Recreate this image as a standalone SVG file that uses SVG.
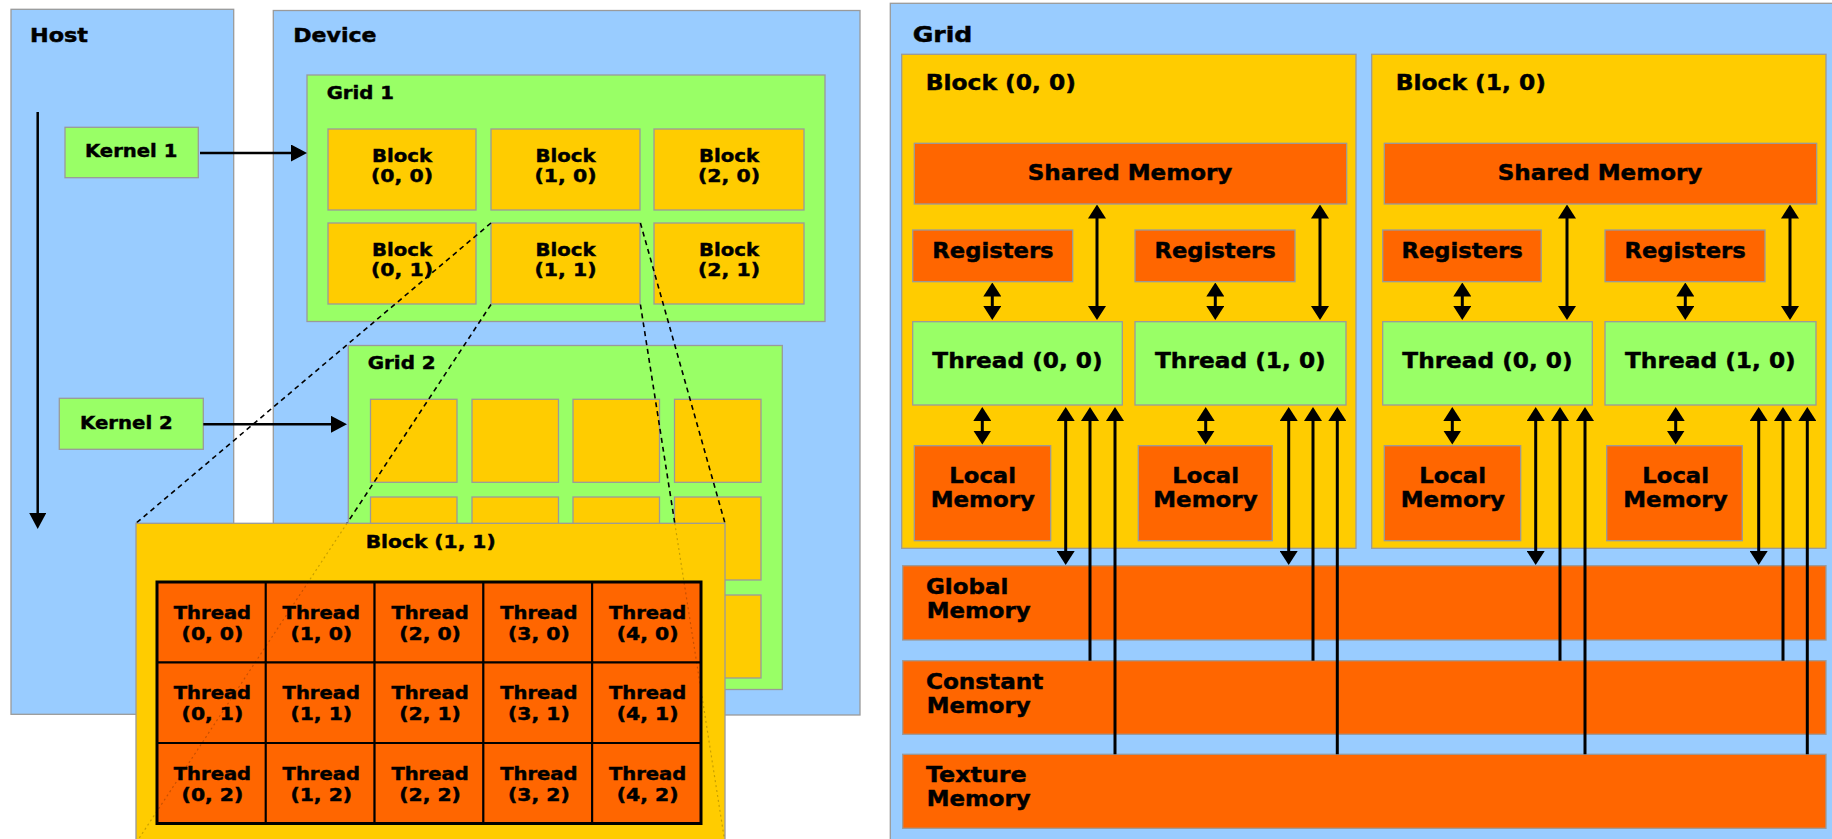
<svg xmlns="http://www.w3.org/2000/svg" width="1832" height="839" viewBox="0 0 1832 839">
<style>
.panel{fill:#99CCFF;stroke:#9a9a9a;stroke-width:1.3}
.grn{fill:#99FF66;stroke:#9a9a9a;stroke-width:1.3}
.blk{fill:#FFCC00;stroke:#9a9a9a;stroke-width:1.3}
.mem{fill:#FF6600;stroke:#9a9a9a;stroke-width:1.3}
.cell{fill:#FF6600;stroke:#000;stroke-width:2}
.outer{fill:none;stroke:#000;stroke-width:3}
text{font-family:"DejaVu Sans",Verdana,sans-serif;font-weight:bold;fill:#000;stroke:#000;stroke-width:0.45}
.lh{font-size:19.5px}
.l{font-size:18px}
.lt{font-size:17px}
.r{font-size:21.5px}
.rh{font-size:22px}
.arr{stroke:#000;stroke-width:3;fill:none}
.arl{stroke:#000;stroke-width:2.5;fill:none}
.dash{stroke:#000;stroke-width:1.6;stroke-dasharray:5 4;fill:none}
.faint{stroke:#000;stroke-opacity:0.22;stroke-width:1.2;stroke-dasharray:2 3;fill:none}
</style>
<defs>
<marker id="h" viewBox="0 0 14 18" markerWidth="14" markerHeight="18" refX="6" refY="9" orient="auto-start-reverse" markerUnits="userSpaceOnUse"><path d="M0,0 L14,9 L0,18 z" fill="#000"/></marker>
<marker id="hl" viewBox="0 0 16 17" markerWidth="16" markerHeight="17" refX="7" refY="8.5" orient="auto-start-reverse" markerUnits="userSpaceOnUse"><path d="M0,0 L16,8.5 L0,17 z" fill="#000"/></marker>
</defs>
<rect width="1832" height="839" fill="#fff"/>

<!-- LEFT DIAGRAM -->
<g id="host">
<rect class="panel" x="11" y="9.3" width="222.7" height="705"/>
<text class="lh" x="30" y="41.5" textLength="58" lengthAdjust="spacingAndGlyphs">Host</text>
</g>
<g id="device">
<rect class="panel" x="273.3" y="10.5" width="586.7" height="704.5"/>
<text class="lh" x="293.3" y="42" textLength="83.3" lengthAdjust="spacingAndGlyphs">Device</text>
</g>
<g id="grid1">
<rect class="grn" x="307" y="75" width="518" height="246.5"/>
<text class="l" x="326.7" y="99" textLength="67.3" lengthAdjust="spacingAndGlyphs">Grid 1</text>
</g>
<g id="g1-block-0-0"><rect class="blk" x="328" y="129" width="148" height="81"/>
<text class="l" x="372" y="161.5" textLength="60" lengthAdjust="spacingAndGlyphs">Block</text>
<text class="l" x="371" y="181.5" textLength="62" lengthAdjust="spacingAndGlyphs">(0, 0)</text></g>
<g id="g1-block-1-0"><rect class="blk" x="491" y="129" width="149" height="81"/>
<text class="l" x="535.5" y="161.5" textLength="60" lengthAdjust="spacingAndGlyphs">Block</text>
<text class="l" x="534.5" y="181.5" textLength="62" lengthAdjust="spacingAndGlyphs">(1, 0)</text></g>
<g id="g1-block-2-0"><rect class="blk" x="654" y="129" width="150" height="81"/>
<text class="l" x="699" y="161.5" textLength="60" lengthAdjust="spacingAndGlyphs">Block</text>
<text class="l" x="698" y="181.5" textLength="62" lengthAdjust="spacingAndGlyphs">(2, 0)</text></g>
<g id="g1-block-0-1"><rect class="blk" x="328" y="223" width="148" height="81"/>
<text class="l" x="372" y="255.5" textLength="60" lengthAdjust="spacingAndGlyphs">Block</text>
<text class="l" x="371" y="275.5" textLength="62" lengthAdjust="spacingAndGlyphs">(0, 1)</text></g>
<g id="g1-block-1-1"><rect class="blk" x="491" y="223" width="149" height="81"/>
<text class="l" x="535.5" y="255.5" textLength="60" lengthAdjust="spacingAndGlyphs">Block</text>
<text class="l" x="534.5" y="275.5" textLength="62" lengthAdjust="spacingAndGlyphs">(1, 1)</text></g>
<g id="g1-block-2-1"><rect class="blk" x="654" y="223" width="150" height="81"/>
<text class="l" x="699" y="255.5" textLength="60" lengthAdjust="spacingAndGlyphs">Block</text>
<text class="l" x="698" y="275.5" textLength="62" lengthAdjust="spacingAndGlyphs">(2, 1)</text></g>

<g id="grid2">
<rect class="grn" x="348.3" y="345.5" width="434" height="344"/>
<text class="l" x="367.7" y="369.3" textLength="68" lengthAdjust="spacingAndGlyphs">Grid 2</text>
<rect class="blk" x="370.5" y="399.3" width="86.5" height="83"/>
<rect class="blk" x="472" y="399.3" width="86.5" height="83"/>
<rect class="blk" x="573" y="399.3" width="86.5" height="83"/>
<rect class="blk" x="674.5" y="399.3" width="86.5" height="83"/>
<rect class="blk" x="370.5" y="497" width="86.5" height="83"/>
<rect class="blk" x="472" y="497" width="86.5" height="83"/>
<rect class="blk" x="573" y="497" width="86.5" height="83"/>
<rect class="blk" x="674.5" y="497" width="86.5" height="83"/>
<rect class="blk" x="370.5" y="595" width="86.5" height="83"/>
<rect class="blk" x="472" y="595" width="86.5" height="83"/>
<rect class="blk" x="573" y="595" width="86.5" height="83"/>
<rect class="blk" x="674.5" y="595" width="86.5" height="83"/>
</g>

<g id="kernel1">
<rect class="grn" x="65" y="127.3" width="133.3" height="50.4"/>
<text class="l" x="85" y="157.3" textLength="92.3" lengthAdjust="spacingAndGlyphs">Kernel 1</text>
</g>
<g id="kernel2">
<rect class="grn" x="59.3" y="398.3" width="144" height="51"/>
<text class="l" x="80" y="429.3" textLength="92.7" lengthAdjust="spacingAndGlyphs">Kernel 2</text>
</g>

<g id="connectors-left">
<line class="arl" x1="37.7" y1="112" x2="37.7" y2="520" marker-end="url(#hl)"/>
<line class="arl" x1="200" y1="153" x2="298" y2="153" marker-end="url(#hl)"/>
<line class="arl" x1="203.3" y1="424.3" x2="338" y2="424.3" marker-end="url(#hl)"/>
<line class="dash" x1="491" y1="223" x2="136" y2="523.3"/>
<line class="dash" x1="491" y1="304.5" x2="347" y2="523.3"/>
<line class="dash" x1="640.4" y1="223" x2="725" y2="523.3"/>
<line class="dash" x1="640.4" y1="304.5" x2="674.8" y2="523.3"/>
</g>

<g id="block-1-1-detail">
<rect class="blk" x="136" y="523.3" width="589" height="330"/>
<text class="l" x="365.7" y="548" textLength="130" lengthAdjust="spacingAndGlyphs">Block (1, 1)</text>
</g>
<g id="threads">
<rect class="cell" x="157" y="582" width="108.8" height="80.5"/>
<rect class="cell" x="265.8" y="582" width="108.8" height="80.5"/>
<rect class="cell" x="374.6" y="582" width="108.8" height="80.5"/>
<rect class="cell" x="483.4" y="582" width="108.8" height="80.5"/>
<rect class="cell" x="592.2" y="582" width="108.8" height="80.5"/>
<rect class="cell" x="157" y="662.5" width="108.8" height="80.5"/>
<rect class="cell" x="265.8" y="662.5" width="108.8" height="80.5"/>
<rect class="cell" x="374.6" y="662.5" width="108.8" height="80.5"/>
<rect class="cell" x="483.4" y="662.5" width="108.8" height="80.5"/>
<rect class="cell" x="592.2" y="662.5" width="108.8" height="80.5"/>
<rect class="cell" x="157" y="743" width="108.8" height="80.5"/>
<rect class="cell" x="265.8" y="743" width="108.8" height="80.5"/>
<rect class="cell" x="374.6" y="743" width="108.8" height="80.5"/>
<rect class="cell" x="483.4" y="743" width="108.8" height="80.5"/>
<rect class="cell" x="592.2" y="743" width="108.8" height="80.5"/>
<rect class="outer" x="157" y="582" width="544" height="241.5"/>
<g class="lt">
<text x="173.8" y="618.5" textLength="77.3" lengthAdjust="spacingAndGlyphs">Thread</text>
<text x="181.6" y="639.5" textLength="61.7" lengthAdjust="spacingAndGlyphs">(0, 0)</text>
<text x="282.6" y="618.5" textLength="77.3" lengthAdjust="spacingAndGlyphs">Thread</text>
<text x="290.4" y="639.5" textLength="61.7" lengthAdjust="spacingAndGlyphs">(1, 0)</text>
<text x="391.4" y="618.5" textLength="77.3" lengthAdjust="spacingAndGlyphs">Thread</text>
<text x="399.2" y="639.5" textLength="61.7" lengthAdjust="spacingAndGlyphs">(2, 0)</text>
<text x="500.2" y="618.5" textLength="77.3" lengthAdjust="spacingAndGlyphs">Thread</text>
<text x="508" y="639.5" textLength="61.7" lengthAdjust="spacingAndGlyphs">(3, 0)</text>
<text x="609" y="618.5" textLength="77.3" lengthAdjust="spacingAndGlyphs">Thread</text>
<text x="616.8" y="639.5" textLength="61.7" lengthAdjust="spacingAndGlyphs">(4, 0)</text>
<text x="173.8" y="699" textLength="77.3" lengthAdjust="spacingAndGlyphs">Thread</text>
<text x="181.6" y="720" textLength="61.7" lengthAdjust="spacingAndGlyphs">(0, 1)</text>
<text x="282.6" y="699" textLength="77.3" lengthAdjust="spacingAndGlyphs">Thread</text>
<text x="290.4" y="720" textLength="61.7" lengthAdjust="spacingAndGlyphs">(1, 1)</text>
<text x="391.4" y="699" textLength="77.3" lengthAdjust="spacingAndGlyphs">Thread</text>
<text x="399.2" y="720" textLength="61.7" lengthAdjust="spacingAndGlyphs">(2, 1)</text>
<text x="500.2" y="699" textLength="77.3" lengthAdjust="spacingAndGlyphs">Thread</text>
<text x="508" y="720" textLength="61.7" lengthAdjust="spacingAndGlyphs">(3, 1)</text>
<text x="609" y="699" textLength="77.3" lengthAdjust="spacingAndGlyphs">Thread</text>
<text x="616.8" y="720" textLength="61.7" lengthAdjust="spacingAndGlyphs">(4, 1)</text>
<text x="173.8" y="779.5" textLength="77.3" lengthAdjust="spacingAndGlyphs">Thread</text>
<text x="181.6" y="800.5" textLength="61.7" lengthAdjust="spacingAndGlyphs">(0, 2)</text>
<text x="282.6" y="779.5" textLength="77.3" lengthAdjust="spacingAndGlyphs">Thread</text>
<text x="290.4" y="800.5" textLength="61.7" lengthAdjust="spacingAndGlyphs">(1, 2)</text>
<text x="391.4" y="779.5" textLength="77.3" lengthAdjust="spacingAndGlyphs">Thread</text>
<text x="399.2" y="800.5" textLength="61.7" lengthAdjust="spacingAndGlyphs">(2, 2)</text>
<text x="500.2" y="779.5" textLength="77.3" lengthAdjust="spacingAndGlyphs">Thread</text>
<text x="508" y="800.5" textLength="61.7" lengthAdjust="spacingAndGlyphs">(3, 2)</text>
<text x="609" y="779.5" textLength="77.3" lengthAdjust="spacingAndGlyphs">Thread</text>
<text x="616.8" y="800.5" textLength="61.7" lengthAdjust="spacingAndGlyphs">(4, 2)</text>
</g>
</g>
<g id="connectors-faint">
<line class="faint" x1="347" y1="523.3" x2="136" y2="843"/>
<line class="faint" x1="674.8" y1="523.3" x2="725" y2="843"/>
</g>

<!-- RIGHT DIAGRAM -->
<g id="grid">
<rect class="panel" x="890.3" y="3.3" width="960" height="850"/>
<text class="rh" x="912.7" y="41.7" textLength="59.7" lengthAdjust="spacingAndGlyphs">Grid</text>
</g>

<g id="rblock-0-0">
<rect class="blk" x="901.7" y="54.3" width="454.3" height="494"/>
<text class="r" x="925.7" y="90" textLength="150.3" lengthAdjust="spacingAndGlyphs">Block (0, 0)</text>
<g id="b0-shared"><rect class="mem" x="914.3" y="143.3" width="432.4" height="60.7"/>
<text class="r" x="1027.7" y="179.5" textLength="204.7" lengthAdjust="spacingAndGlyphs">Shared Memory</text></g>
<g id="b0-reg0"><rect class="mem" x="912.7" y="230" width="160" height="51.7"/>
<text class="r" x="932.3" y="258" textLength="121.3" lengthAdjust="spacingAndGlyphs">Registers</text></g>
<g id="b0-reg1"><rect class="mem" x="1135" y="230" width="160" height="51.7"/>
<text class="r" x="1154.5" y="258" textLength="121.3" lengthAdjust="spacingAndGlyphs">Registers</text></g>
<g id="b0-thread0"><rect class="grn" x="912.7" y="321.7" width="209.6" height="83.3"/>
<text class="r" x="932.3" y="367.7" textLength="170.3" lengthAdjust="spacingAndGlyphs">Thread (0, 0)</text></g>
<g id="b0-thread1"><rect class="grn" x="1135" y="321.7" width="211" height="83.3"/>
<text class="r" x="1155" y="367.7" textLength="170.7" lengthAdjust="spacingAndGlyphs">Thread (1, 0)</text></g>
<g id="b0-local0"><rect class="mem" x="914.3" y="445.7" width="136.4" height="95"/>
<text class="r" x="949.3" y="483" textLength="66.7" lengthAdjust="spacingAndGlyphs">Local</text>
<text class="r" x="930.7" y="507" textLength="104.3" lengthAdjust="spacingAndGlyphs">Memory</text></g>
<g id="b0-local1"><rect class="mem" x="1138.3" y="445.7" width="134" height="95"/>
<text class="r" x="1172.3" y="483" textLength="66.7" lengthAdjust="spacingAndGlyphs">Local</text>
<text class="r" x="1153.3" y="507" textLength="104.3" lengthAdjust="spacingAndGlyphs">Memory</text></g>
</g>

<g id="rblock-1-0">
<rect class="blk" x="1371.7" y="54.3" width="454.3" height="494"/>
<text class="r" x="1395.7" y="90" textLength="150.3" lengthAdjust="spacingAndGlyphs">Block (1, 0)</text>
<g id="b1-shared"><rect class="mem" x="1384.3" y="143.3" width="432.4" height="60.7"/>
<text class="r" x="1497.7" y="179.5" textLength="204.7" lengthAdjust="spacingAndGlyphs">Shared Memory</text></g>
<g id="b1-reg0"><rect class="mem" x="1382.7" y="230" width="158.5" height="51.7"/>
<text class="r" x="1401.5" y="258" textLength="121.3" lengthAdjust="spacingAndGlyphs">Registers</text></g>
<g id="b1-reg1"><rect class="mem" x="1605" y="230" width="160" height="51.7"/>
<text class="r" x="1624.5" y="258" textLength="121.3" lengthAdjust="spacingAndGlyphs">Registers</text></g>
<g id="b1-thread0"><rect class="grn" x="1382.7" y="321.7" width="209.6" height="83.3"/>
<text class="r" x="1402.3" y="367.7" textLength="170.3" lengthAdjust="spacingAndGlyphs">Thread (0, 0)</text></g>
<g id="b1-thread1"><rect class="grn" x="1605" y="321.7" width="211" height="83.3"/>
<text class="r" x="1625" y="367.7" textLength="170.7" lengthAdjust="spacingAndGlyphs">Thread (1, 0)</text></g>
<g id="b1-local0"><rect class="mem" x="1384.3" y="445.7" width="136.4" height="95"/>
<text class="r" x="1419.3" y="483" textLength="66.7" lengthAdjust="spacingAndGlyphs">Local</text>
<text class="r" x="1400.7" y="507" textLength="104.3" lengthAdjust="spacingAndGlyphs">Memory</text></g>
<g id="b1-local1"><rect class="mem" x="1606.7" y="445.7" width="135.6" height="95"/>
<text class="r" x="1642.3" y="483" textLength="66.7" lengthAdjust="spacingAndGlyphs">Local</text>
<text class="r" x="1623.3" y="507" textLength="104.3" lengthAdjust="spacingAndGlyphs">Memory</text></g>
</g>

<g id="global-memory"><rect class="mem" x="902.7" y="565.7" width="923.3" height="74.3"/>
<text class="r" x="926" y="594.3" textLength="82.3" lengthAdjust="spacingAndGlyphs">Global</text>
<text class="r" x="926.7" y="618.3" textLength="104" lengthAdjust="spacingAndGlyphs">Memory</text></g>
<g id="constant-memory"><rect class="mem" x="902.7" y="660.7" width="923.3" height="73.6"/>
<text class="r" x="926" y="689.3" textLength="117.3" lengthAdjust="spacingAndGlyphs">Constant</text>
<text class="r" x="926.7" y="713.3" textLength="104" lengthAdjust="spacingAndGlyphs">Memory</text></g>
<g id="texture-memory"><rect class="mem" x="902.7" y="754.3" width="923.3" height="74"/>
<text class="r" x="926" y="782.3" textLength="100.7" lengthAdjust="spacingAndGlyphs">Texture</text>
<text class="r" x="926.7" y="806" textLength="104" lengthAdjust="spacingAndGlyphs">Memory</text></g>

<g id="connectors-right" class="arr">
<line x1="992.3" y1="290.5" x2="992.3" y2="312" marker-start="url(#h)" marker-end="url(#h)"/>
<line x1="1215.3" y1="290.5" x2="1215.3" y2="312" marker-start="url(#h)" marker-end="url(#h)"/>
<line x1="1097" y1="212.5" x2="1097" y2="312" marker-start="url(#h)" marker-end="url(#h)"/>
<line x1="1320" y1="212.5" x2="1320" y2="312" marker-start="url(#h)" marker-end="url(#h)"/>
<line x1="982.3" y1="415" x2="982.3" y2="436.5" marker-start="url(#h)" marker-end="url(#h)"/>
<line x1="1205.7" y1="415" x2="1205.7" y2="436.5" marker-start="url(#h)" marker-end="url(#h)"/>
<line x1="1065.7" y1="415" x2="1065.7" y2="557" marker-start="url(#h)" marker-end="url(#h)"/>
<line x1="1288.7" y1="415" x2="1288.7" y2="557" marker-start="url(#h)" marker-end="url(#h)"/>
<line x1="1090" y1="660.7" x2="1090" y2="415" marker-end="url(#h)"/>
<line x1="1313" y1="660.7" x2="1313" y2="415" marker-end="url(#h)"/>
<line x1="1115" y1="754.3" x2="1115" y2="415" marker-end="url(#h)"/>
<line x1="1337.3" y1="754.3" x2="1337.3" y2="415" marker-end="url(#h)"/>
<line x1="1462.3" y1="290.5" x2="1462.3" y2="312" marker-start="url(#h)" marker-end="url(#h)"/>
<line x1="1685.3" y1="290.5" x2="1685.3" y2="312" marker-start="url(#h)" marker-end="url(#h)"/>
<line x1="1567" y1="212.5" x2="1567" y2="312" marker-start="url(#h)" marker-end="url(#h)"/>
<line x1="1790" y1="212.5" x2="1790" y2="312" marker-start="url(#h)" marker-end="url(#h)"/>
<line x1="1452.3" y1="415" x2="1452.3" y2="436.5" marker-start="url(#h)" marker-end="url(#h)"/>
<line x1="1675.7" y1="415" x2="1675.7" y2="436.5" marker-start="url(#h)" marker-end="url(#h)"/>
<line x1="1535.7" y1="415" x2="1535.7" y2="557" marker-start="url(#h)" marker-end="url(#h)"/>
<line x1="1758.7" y1="415" x2="1758.7" y2="557" marker-start="url(#h)" marker-end="url(#h)"/>
<line x1="1560" y1="660.7" x2="1560" y2="415" marker-end="url(#h)"/>
<line x1="1783" y1="660.7" x2="1783" y2="415" marker-end="url(#h)"/>
<line x1="1585" y1="754.3" x2="1585" y2="415" marker-end="url(#h)"/>
<line x1="1807.3" y1="754.3" x2="1807.3" y2="415" marker-end="url(#h)"/>
</g>
</svg>
